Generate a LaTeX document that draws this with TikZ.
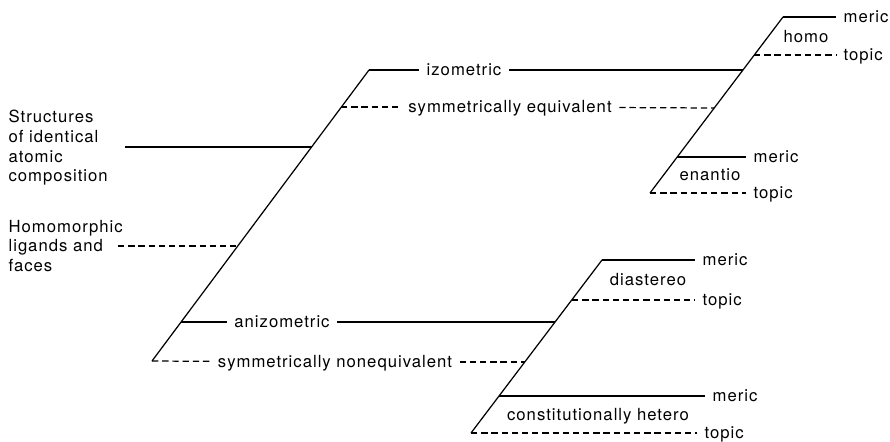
\documentclass[tikz,border=0pt]{standalone}
\usepackage{fontspec}
\setmainfont{TeX Gyre Heros}[LetterSpace=6]
\usepackage{tikz}
\usetikzlibrary{calc}

\begin{document}
\begin{tikzpicture}[x=0.02cm, y=-0.02cm, line width=0.7pt,
  every node/.style={font=\fontsize{9.5}{11.2}\selectfont},
  lbl/.style={inner sep=4pt, text height=1.5ex, text depth=.25ex},
  word/.style={lbl, anchor=west},
  block/.style={align=left, anchor=west, inner sep=0pt},
  dsh/.style={dash pattern=on 3.6pt off 2.2pt}]
\useasboundingbox (0,0) rectangle (890,441);

% main stem
\coordinate (mt) at (369,70);
\coordinate (mb) at (152,361);
\coordinate (m1) at (341,107);
\coordinate (m2) at (312,147);
\coordinate (m3) at (238,246);
\coordinate (m4) at (181,322);
\draw (mt) -- (mb);

\node[block] (struc) at (8,148) {Structures\\of identical\\atomic\\composition};
\node[block] (homom) at (8,246) {Homomorphic\\ligands and\\faces};
\coordinate (s0) at (125,147);
\coordinate (h0) at (118,246);
\draw (s0) -- (m2);
\draw[dsh] (h0) -- (m3);

% homo / enantio
\coordinate (ht) at (783,17);
\coordinate (hb) at (650,193);
\coordinate (h1) at (754,55);
\coordinate (h2) at (743,70);
\coordinate (h3) at (714,108);
\coordinate (h4) at (677,157);
\draw (ht) -- (hb);

\node[lbl] (izo) at (464,70) {izometric};
\node[lbl] (symeq) at (510,107) {symmetrically equivalent};
\draw (mt) -- (izo);
\draw (izo) -- (h2);
\draw[dsh] (m1) -- (symeq);
\draw[dsh] (symeq) -- (h3);

\node[lbl] (homo) at (806,37) {homo};
\node[word] (hmer) at (836,17) {meric};
\node[word] (htop) at (836,55) {topic};
\draw (ht) -- (hmer);
\draw[dsh] (h1) -- (htop);

\node[lbl] (enan) at (710,175) {enantio};
\node[word] (emer) at (746,157) {meric};
\node[word] (etop) at (746,193) {topic};
\draw (h4) -- (emer);
\draw[dsh] (hb) -- (etop);

% diastereo / hetero
\coordinate (dt) at (602,260);
\coordinate (db) at (471,433);
\coordinate (d1) at (572,300);
\coordinate (d2) at (555,322);
\coordinate (d3) at (525,362);
\coordinate (d4) at (499,396);
\draw (dt) -- (db);

\node[lbl] (aniz) at (282,322) {anizometric};
\node[lbl] (symne) at (335,362) {symmetrically nonequivalent};
\draw (m4) -- (aniz);
\draw (aniz) -- (d2);
\draw[dsh] (mb) -- (symne);
\draw[dsh] (symne) -- (d3);

\node[lbl] (dia) at (648,280) {diastereo};
\node[word] (dmer) at (695,260) {meric};
\node[word] (dtop) at (695,300) {topic};
\draw (dt) -- (dmer);
\draw[dsh] (d1) -- (dtop);

\node[lbl] (het) at (598,415) {constitutionally hetero};
\node[word] (cmer) at (705,396) {meric};
\node[word] (ctop) at (697,433) {topic};
\draw (d4) -- (cmer);
\draw[dsh] (db) -- (ctop);
\end{tikzpicture}
\end{document}
